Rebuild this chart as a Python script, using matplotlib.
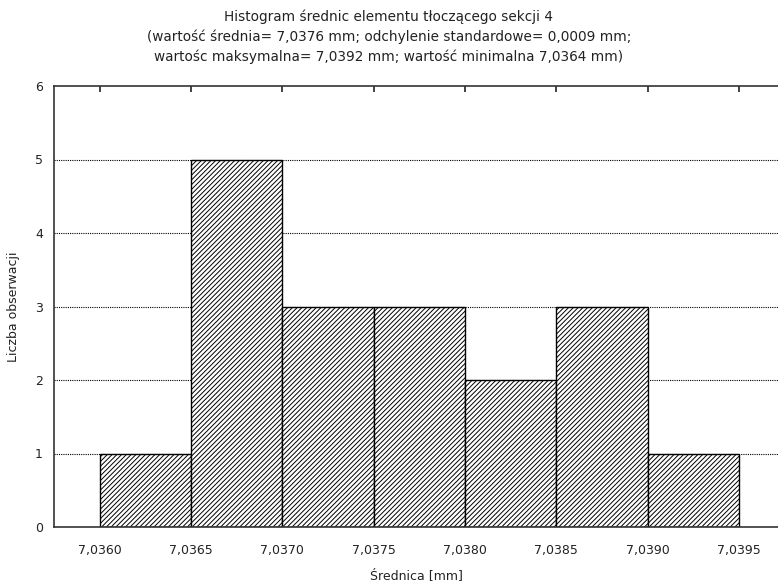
import matplotlib
matplotlib.use("Agg")
import matplotlib.pyplot as plt
import numpy as np

plt.rcParams["font.family"] = ["DejaVu Sans"]
plt.rcParams["hatch.linewidth"] = 0.7

# histogram data
bin_edges = [7.0360, 7.0365, 7.0370, 7.0375, 7.0380, 7.0385, 7.0390, 7.0395]
counts = [1, 5, 3, 3, 2, 3, 1]
x_ticks = [7.0360, 7.0365, 7.0370, 7.0375, 7.0380, 7.0385, 7.0390, 7.0395]
x_tick_labels = ["7,0360", "7,0365", "7,0370", "7,0375", "7,0380", "7,0385", "7,0390", "7,0395"]
y_ticks = [0, 1, 2, 3, 4, 5, 6]

title = ("Histogram średnic elementu tłoczącego sekcji 4\n"
         "(wartość średnia= 7,0376 mm; odchylenie standardowe= 0,0009 mm;\n"
         "wartośc maksymalna= 7,0392 mm; wartość minimalna 7,0364 mm)")

fig = plt.figure(figsize=(7.78, 5.85), dpi=100)
ax = fig.add_axes([54 / 778, 1 - 527 / 585, 1 - 54 / 778, (527 - 86) / 585])

edges = np.array(bin_edges)
ax.bar(edges[:-1], counts, width=np.diff(edges), align="edge",
       facecolor="white", edgecolor="black", linewidth=1.0, hatch="/" * 7, zorder=2)

ax.set_xlim(7.03575, 7.039713)
ax.set_ylim(0, 6)
ax.set_yticks(y_ticks)
ax.set_xticks(x_ticks)
ax.set_xticklabels(x_tick_labels)

for y in y_ticks[1:-1]:
    ax.axhline(y, color="black", linestyle=(0, (1, 1)), linewidth=0.8, zorder=1)

ax.spines["right"].set_visible(False)
for s in ("left", "bottom", "top"):
    ax.spines[s].set_linewidth(1.2)
    ax.spines[s].set_color("#333333")

ax.tick_params(axis="both", length=0, labelsize=9, colors="#222222", pad=8)
ax.tick_params(axis="x", pad=12)
ax.tick_params(axis="x", which="both", top=True, direction="in", length=4, width=1.2, labeltop=False)
ax.tick_params(axis="x", bottom=False)

ax.set_xlabel("Średnica [mm]", fontsize=9, labelpad=9, color="#222222")
ax.set_ylabel("Liczba obserwacji", fontsize=9, labelpad=11, color="#222222")
fig.text(0.5, 1 - 9 / 585, title, ha="center", va="top", fontsize=9.8,
         linespacing=1.5, color="#222222")

fig.savefig("out.png", dpi=100)
